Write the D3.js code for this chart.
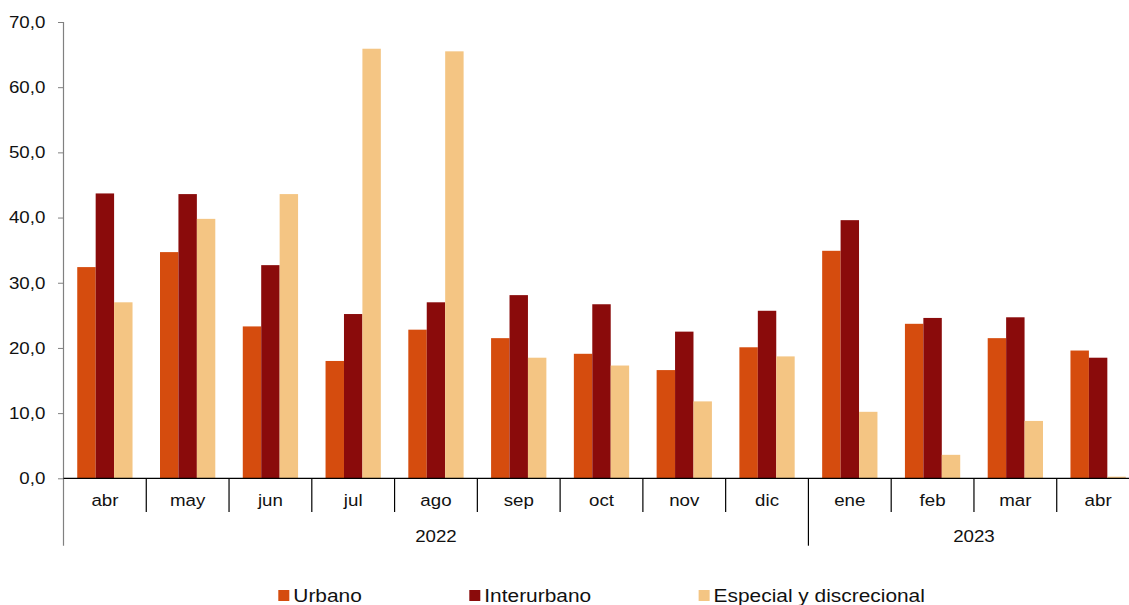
<!DOCTYPE html>
<html><head><meta charset="utf-8">
<script src="https://cdn.jsdelivr.net/npm/d3@7/dist/d3.min.js"></script>
<style>
html,body{margin:0;padding:0;background:#fff;}
svg{display:block;font-family:"Liberation Sans",Arial,sans-serif;}
</style></head>
<body><svg id="chart" width="1129" height="605"></svg>
<script>
const months = ["abr","may","jun","jul","ago","sep","oct","nov","dic","ene","feb","mar","abr"];
const years = [{label:"2022", from:0, to:9},{label:"2023", from:9, to:13}];
const seriesNames = ["Urbano","Interurbano","Especial y discrecional"];
const urbano      = [32.4, 34.7, 23.3, 18.0, 22.8, 21.5, 19.1, 16.6, 20.1, 34.9, 23.7, 21.5, 19.6];
const interurbano = [43.7, 43.6, 32.7, 25.2, 27.0, 28.1, 26.7, 22.5, 25.7, 39.6, 24.6, 24.7, 18.5];
const especial    = [27.0, 39.8, 43.6, 65.9, 65.5, 18.5, 17.3, 11.8, 18.7, 10.2, 3.6, 8.8, 0.25];
const yTicks = [0,10,20,30,40,50,60,70];
const colors = ["#D54C0E","#8A0B0B","#F4C583"];

(function(){
const svg = d3.select("#chart");
const pLeft = 63.5, pRight = 1139.5, pTop = 22, pBottom = 478.3, axisBottom = 545.7;

const idx = d3.range(months.length);
const x0 = d3.scaleBand().domain(idx).range([pLeft, pRight]).paddingInner(0.332).paddingOuter(0.166);
const x1 = d3.scaleBand().domain(d3.range(3)).range([0, x0.bandwidth()]);
const y = d3.scaleLinear().domain([0,70]).range([pBottom, pTop]);
const step = x0.step();
const series = [urbano, interurbano, especial];

const g = svg.append("g");
series.forEach((vals, s) => {
  g.selectAll(null).data(vals).enter().append("rect")
    .attr("x", (d,i) => x0(i) + x1(s))
    .attr("width", x1.bandwidth())
    .attr("y", d => y(d))
    .attr("height", d => y(0) - y(d))
    .attr("fill", colors[s]);
});

const yAx = svg.append("g").attr("transform", `translate(${pLeft},0)`)
  .call(d3.axisLeft(y).tickValues(yTicks).tickSize(5.5).tickPadding(11)
    .tickFormat(d => d3.format(".1f")(d).replace(".", ",")));
yAx.select(".domain").remove();
yAx.selectAll(".tick line").attr("stroke", "#808080");
yAx.selectAll(".tick text").attr("font-size", 17).attr("fill", "#111")
  .attr("font-family", "Liberation Sans, Arial, sans-serif")
  .attr("transform", "scale(1.1,1)");
svg.append("line").attr("x1", pLeft).attr("x2", pLeft).attr("y1", pTop).attr("y2", axisBottom)
  .attr("stroke", "#808080").attr("stroke-width", 1.2);

svg.append("line").attr("x1", pLeft).attr("x2", pRight).attr("y1", pBottom).attr("y2", pBottom)
  .attr("stroke", "#000").attr("stroke-width", 1.2);

const sepIdx = d3.range(1, months.length + 1);
svg.selectAll(null).data(sepIdx).enter().append("line")
  .attr("x1", i => pLeft + i*step).attr("x2", i => pLeft + i*step)
  .attr("y1", pBottom)
  .attr("y2", i => years.some(yr => yr.from === i) ? axisBottom : 512)
  .attr("stroke", "#000").attr("stroke-width", 1.2);

svg.selectAll(null).data(months).enter().append("text")
  .attr("transform", (d,i) => `translate(${x0(i) + x0.bandwidth()/2},506) scale(1.1,1)`)
  .attr("text-anchor", "middle").attr("font-size", 17).attr("fill", "#111")
  .text(d => d);

svg.selectAll(null).data(years).enter().append("text")
  .attr("transform", d => `translate(${pLeft + (d.from + d.to)/2*step},542) scale(1.1,1)`)
  .attr("text-anchor", "middle").attr("font-size", 17).attr("fill", "#111")
  .text(d => d.label);

const lg = svg.append("g");
let lx = 278.3;
seriesNames.forEach((name, s) => {
  lg.append("rect").attr("x", lx).attr("y", 590).attr("width", 11).attr("height", 11).attr("fill", colors[s]);
  const t = lg.append("text").attr("transform", `translate(${lx + 15},602.3) scale(1.13,1)`)
    .attr("font-size", 18.5).attr("fill", "#111").text(name);
  const w = t.node().getComputedTextLength() * 1.13;
  lx = lx + 15 + w + 107.5;
});
})();
</script></body></html>
